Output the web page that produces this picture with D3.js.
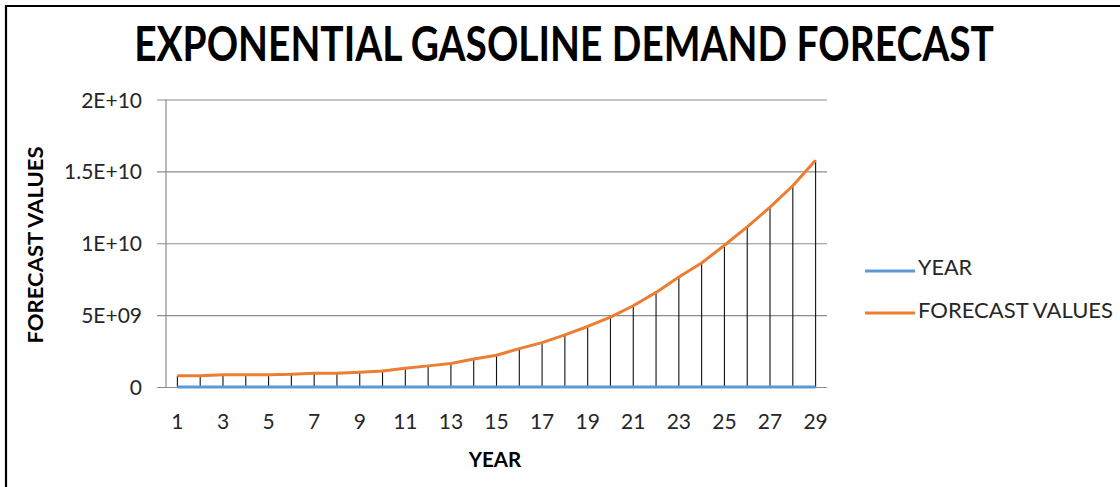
<!DOCTYPE html>
<html>
<head>
<meta charset="utf-8">
<script src="https://cdn.jsdelivr.net/npm/d3@7"></script>
<style>
  html, body { margin: 0; padding: 0; background: #fff; }
  svg { display: block; }
  text { font-family: Lato, "Open Sans", sans-serif; fill: #262626; }
</style>
</head>
<body>
<svg id="chart" width="1120" height="487"></svg>
<script>
// Category labels (years) and the two plotted series
const years = [1,2,3,4,5,6,7,8,9,10,11,12,13,14,15,16,17,18,19,20,21,22,23,24,25,26,27,28,29];
const yearSeries = [1,2,3,4,5,6,7,8,9,10,11,12,13,14,15,16,17,18,19,20,21,22,23,24,25,26,27,28,29];
const forecastValues = [
  7.9e8, 7.9e8, 8.6e8, 8.6e8, 8.6e8, 8.8e8, 9.5e8, 9.5e8, 1.02e9, 1.12e9,
  1.30e9, 1.47e9, 1.63e9, 1.95e9, 2.21e9, 2.67e9, 3.09e9, 3.63e9, 4.21e9, 4.86e9,
  5.65e9, 6.58e9, 7.65e9, 8.63e9, 9.86e9, 1.114e10, 1.251e10, 1.40e10, 1.577e10
];
const yTicks = [0, 5e9, 1e10, 1.5e10, 2e10];
const yTickLabels = ["0", "5E+09", "1E+10", "1.5E+10", "2E+10"];
const xTickLabels = ["1","3","5","7","9","11","13","15","17","19","21","23","25","27","29"];

const svg = d3.select("#chart");
const plot = { left: 166, right: 827, top: 99.5, bottom: 387 };

const x = d3.scaleBand().domain(years).range([plot.left, plot.right]).padding(0);
const cx = d => x(d) + x.bandwidth() / 2;
const y = d3.scaleLinear().domain([0, 2e10]).range([plot.bottom, plot.top]);

// outer frame of the chart area
svg.append("path")
  .attr("d", "M6,1000 L6,6 L1200,6")
  .attr("fill", "none").attr("stroke", "#000").attr("stroke-width", 2.2);

// fit a text element horizontally to a target width, keeping its height
function fitWidth(sel, cxPos, baseY, width) {
  const natural = sel.node().getComputedTextLength();
  sel.attr("x", 0).attr("y", 0).attr("text-anchor", "middle")
    .attr("transform", `translate(${cxPos},${baseY}) scale(${width / natural},1)`);
}

// title
const title = svg.append("text")
  .attr("font-size", 48).attr("font-weight", 700)
  .style("fill", "#000")
  .text("EXPONENTIAL GASOLINE DEMAND FORECAST");
fitWidth(title, 564, 61, 860);

// horizontal gridlines and value axis
const yAxis = d3.axisLeft(y).tickValues(yTicks)
  .tickFormat((d, i) => yTickLabels[i])
  .tickSize(plot.right - plot.left + 9).tickPadding(14);
const gy = svg.append("g").attr("transform", `translate(${plot.right},0)`).call(yAxis);
gy.select(".domain").remove();
gy.selectAll(".tick line").attr("stroke", "#8c8c8c").attr("stroke-width", 1.2);
gy.selectAll(".tick text").attr("font-size", 21).style("fill", "#262626")
  .attr("x", -(plot.right - 142)).attr("dx", 0).attr("dy", "0.36em");

// vertical axis line
svg.append("line")
  .attr("x1", plot.left).attr("x2", plot.left)
  .attr("y1", plot.top).attr("y2", plot.bottom)
  .attr("stroke", "#8c8c8c").attr("stroke-width", 1.2);

// category axis labels (every other year)
const xAxis = d3.axisBottom(x).tickValues(xTickLabels.map(Number)).tickSize(0).tickPadding(0);
const gx = svg.append("g").attr("transform", `translate(0,${plot.bottom})`).call(xAxis);
gx.select(".domain").remove();
gx.selectAll(".tick text").attr("font-size", 21).style("fill", "#262626")
  .attr("y", 42).attr("dy", 0);

// drop lines from each forecast point to the category axis
svg.append("g").selectAll("line").data(years).join("line")
  .attr("x1", (d) => cx(d)).attr("x2", (d) => cx(d))
  .attr("y1", (d, i) => y(Math.max(forecastValues[i], yearSeries[i])))
  .attr("y2", y(0))
  .attr("stroke", "#111").attr("stroke-width", 1.1);

// series lines
const line = d3.line().x((d, i) => cx(years[i])).y(d => y(d));
svg.append("path").datum(yearSeries)
  .attr("d", line).attr("fill", "none")
  .attr("stroke", "#5B9BD5").attr("stroke-width", 3);
svg.append("path").datum(forecastValues)
  .attr("d", line).attr("fill", "none")
  .attr("stroke", "#ED7D31").attr("stroke-width", 3).attr("stroke-linejoin", "round");

// axis titles
svg.append("text")
  .attr("x", 495).attr("y", 467).attr("text-anchor", "middle")
  .attr("font-size", 20.5).attr("font-weight", 700).style("fill", "#000")
  .text("YEAR");
svg.append("text")
  .attr("transform", "translate(43,245) rotate(-90)")
  .attr("text-anchor", "middle")
  .attr("font-size", 20.5).attr("font-weight", 700).style("fill", "#000")
  .attr("textLength", 197).attr("lengthAdjust", "spacingAndGlyphs")
  .text("FORECAST VALUES");

// legend
const legend = [
  { name: "YEAR", color: "#5B9BD5", ly: 271, ty: 275, w: 54 },
  { name: "FORECAST VALUES", color: "#ED7D31", ly: 313, ty: 318, w: 195 }
];
const lg = svg.append("g").selectAll("g").data(legend).join("g");
lg.append("line")
  .attr("x1", 865).attr("x2", 915)
  .attr("y1", d => d.ly).attr("y2", d => d.ly)
  .attr("stroke", d => d.color).attr("stroke-width", 3);
lg.append("text")
  .attr("x", 918).attr("y", d => d.ty)
  .attr("font-size", 21)
  .attr("textLength", d => d.w).attr("lengthAdjust", "spacingAndGlyphs")
  .text(d => d.name);
</script>
</body>
</html>
